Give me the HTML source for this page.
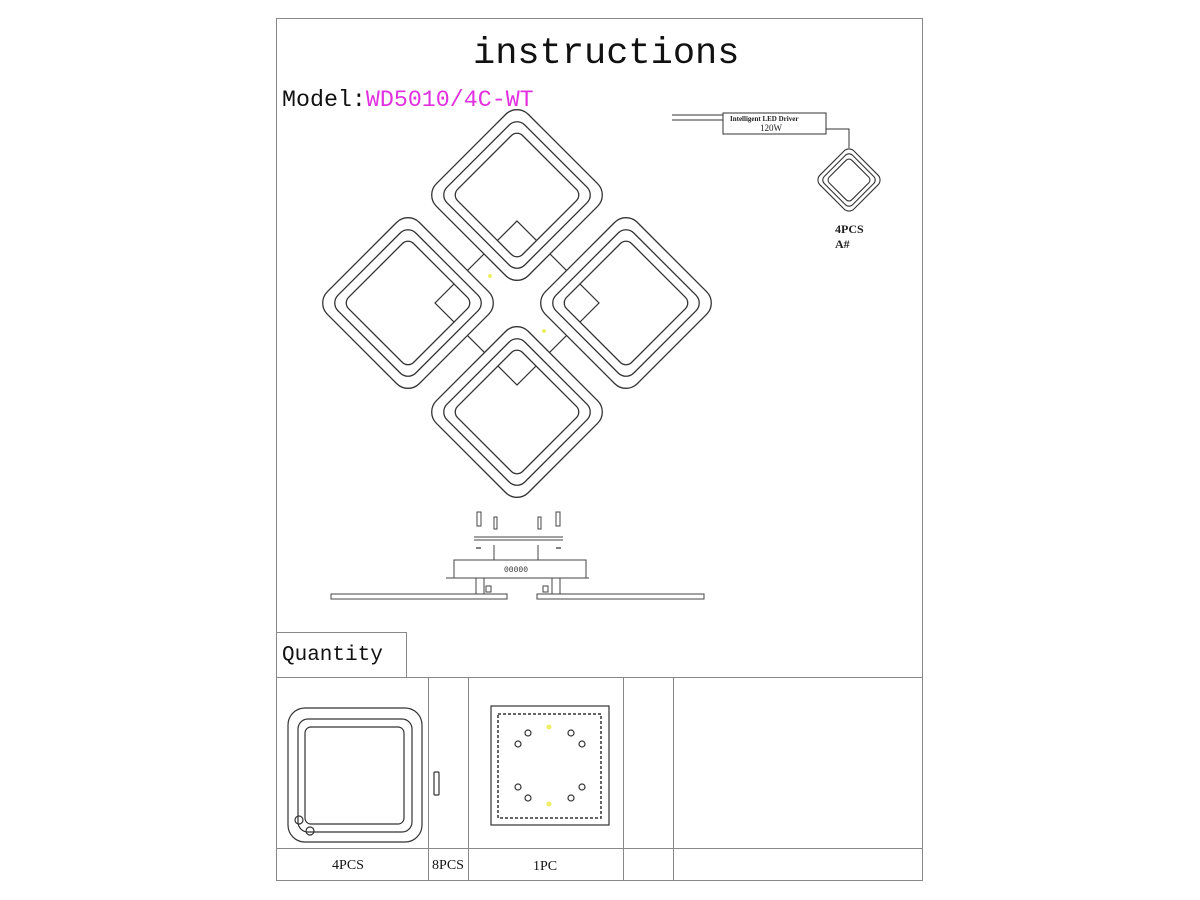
<!DOCTYPE html>
<html><head><meta charset="utf-8"><style>
html,body{margin:0;padding:0;background:#fff;width:1200px;height:900px;overflow:hidden}
svg{display:block}
</style></head><body>
<svg width="1200" height="900" viewBox="0 0 1200 900" xmlns="http://www.w3.org/2000/svg">
<defs>
<g id="ring">
<rect x="-55.5" y="-55.5" width="111" height="111" rx="12" fill="none" stroke="#fff" stroke-width="19"/>
<rect x="-65" y="-65" width="130" height="130" rx="16" fill="none" stroke="#333" stroke-width="1.3"/>
<rect x="-55" y="-55" width="110" height="110" rx="11" fill="none" stroke="#333" stroke-width="1.3"/>
<rect x="-46" y="-46" width="92" height="92" rx="8" fill="none" stroke="#333" stroke-width="1.3"/>
</g>
</defs>
<rect x="276.5" y="18.5" width="646" height="862" fill="none" stroke="#888" stroke-width="1"/>
<text x="473" y="63" font-family="Liberation Mono, monospace" font-size="37" fill="#111">instructions</text>
<text x="282" y="106" font-family="Liberation Mono, monospace" font-size="23.3" fill="#111">Model:<tspan fill="#e030e0">WD5010/4C-WT</tspan></text>

<!-- central diamond (visible in gaps and ring interiors) -->
<rect x="-58" y="-58" width="116" height="116" transform="translate(517,303) rotate(45)" fill="none" stroke="#333" stroke-width="1.2"/>
<g transform="translate(517,195) rotate(45)"><use href="#ring"/></g>
<g transform="translate(408,303) rotate(45)"><use href="#ring"/></g>
<g transform="translate(626,303) rotate(45)"><use href="#ring"/></g>
<g transform="translate(517,412) rotate(45)"><use href="#ring"/></g>
<circle cx="490" cy="276" r="2" fill="#ee6"/>
<circle cx="544" cy="331" r="2" fill="#ee6"/>

<!-- driver -->
<g stroke="#333" stroke-width="1" fill="none">
<line x1="672" y1="115" x2="724" y2="115"/><line x1="672" y1="120" x2="724" y2="120"/>
<rect x="723" y="113" width="103" height="21" fill="#fff"/>
<polyline points="826,129 849,129 849,148"/>
</g>
<text x="730" y="121" font-family="Liberation Serif, serif" font-size="7" font-weight="bold" fill="#222">Intelligent LED Driver</text>
<text x="760" y="131" font-family="Liberation Serif, serif" font-size="9" fill="#222">120W</text>
<g transform="translate(849,180) rotate(45)" stroke="#333" stroke-width="1.1" fill="#fff">
<rect x="-24" y="-24" width="48" height="48" rx="7"/>
<rect x="-20" y="-20" width="40" height="40" rx="5" fill="none"/>
<rect x="-16" y="-16" width="32" height="32" rx="4" fill="none"/>
</g>
<text x="835" y="233" font-family="Liberation Serif, serif" font-size="12" font-weight="bold" fill="#222">4PCS</text>
<text x="835" y="248" font-family="Liberation Serif, serif" font-size="12" font-weight="bold" fill="#222">A#</text>

<!-- side view -->
<g stroke="#444" stroke-width="1" fill="none">
<rect x="331" y="594" width="176" height="5"/>
<rect x="537" y="594" width="167" height="5"/>
<rect x="476" y="578" width="8" height="16"/>
<rect x="552" y="578" width="8" height="16"/>
<line x1="446" y1="578" x2="589" y2="578"/>
<rect x="454" y="560" width="132" height="18"/>
<line x1="474" y1="537" x2="563" y2="537"/>
<line x1="474" y1="540" x2="563" y2="540"/>
<rect x="477" y="512" width="4" height="14"/><rect x="556" y="512" width="4" height="14"/>
<rect x="494" y="517" width="3" height="12"/><rect x="538" y="517" width="3" height="12"/>
<line x1="494" y1="545" x2="494" y2="560"/><line x1="538" y1="545" x2="538" y2="560"/>
<rect x="486" y="586" width="5" height="6"/><rect x="543" y="586" width="5" height="6"/>
</g>
<g stroke="#555" stroke-width="1.5"><line x1="476" y1="548" x2="481" y2="548"/><line x1="556" y1="548" x2="561" y2="548"/></g>
<text x="504" y="572" font-family="Liberation Mono, monospace" font-size="8" fill="#333">00000</text>

<!-- quantity table -->
<g stroke="#888" stroke-width="1" fill="none">
<rect x="276.5" y="632.5" width="130" height="45"/>
<line x1="276" y1="677.5" x2="922" y2="677.5"/>
<line x1="276" y1="848.5" x2="922" y2="848.5"/>
<line x1="428.5" y1="677" x2="428.5" y2="880"/>
<line x1="468.5" y1="677" x2="468.5" y2="880"/>
<line x1="623.5" y1="677" x2="623.5" y2="880"/>
<line x1="673.5" y1="677" x2="673.5" y2="880"/>
</g>
<text x="282" y="660" font-family="Liberation Mono, monospace" font-size="21" fill="#111">Quantity</text>
<g stroke="#333" stroke-width="1.2" fill="none">
<rect x="288" y="708" width="134" height="134" rx="17"/>
<rect x="298" y="719" width="114" height="113" rx="10"/>
<rect x="305" y="727" width="99" height="97" rx="6"/>
<circle cx="299" cy="820" r="4"/><circle cx="310" cy="831" r="4"/>
<rect x="434" y="772" width="5" height="23" rx="1"/>
<rect x="491" y="706" width="118" height="119"/>
<rect x="498" y="714" width="103" height="104" stroke-dasharray="3,2" stroke-width="1.5"/>
<circle cx="528" cy="733" r="3"/><circle cx="571" cy="733" r="3"/>
<circle cx="518" cy="744" r="3"/><circle cx="582" cy="744" r="3"/>
<circle cx="518" cy="787" r="3"/><circle cx="582" cy="787" r="3"/>
<circle cx="528" cy="798" r="3"/><circle cx="571" cy="798" r="3"/>
</g>
<circle cx="549" cy="727" r="2.5" fill="#ee6"/><circle cx="549" cy="804" r="2.5" fill="#ee6"/>
<g font-family="Liberation Serif, serif" font-size="14" fill="#111" text-anchor="middle">
<text x="348" y="869">4PCS</text>
<text x="448" y="869">8PCS</text>
<text x="545" y="870">1PC</text>
</g>
</svg>
</body></html>
